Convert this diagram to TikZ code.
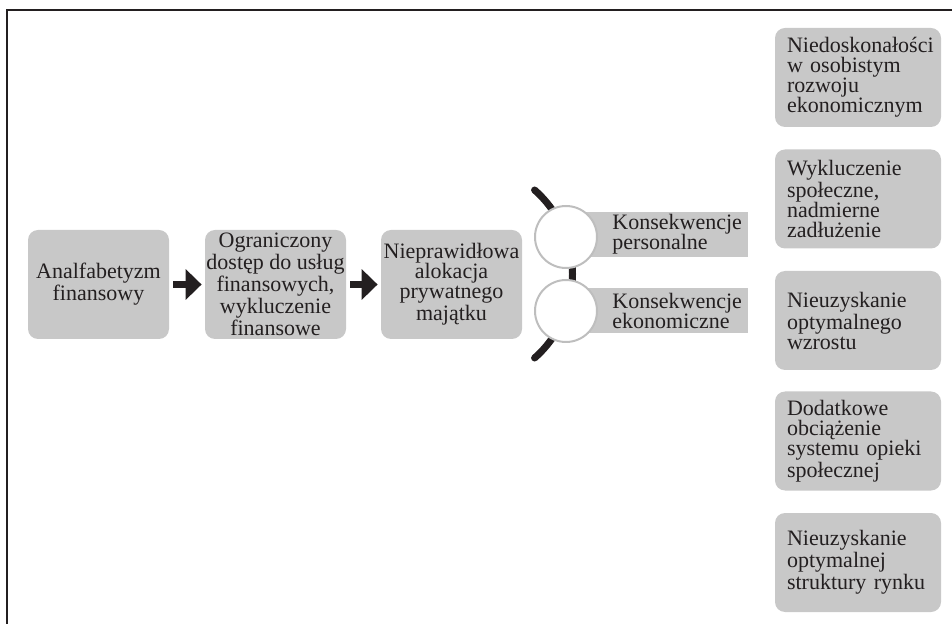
\documentclass[tikz,border=0pt]{standalone}
\usepackage{fontspec}
\setmainfont{Liberation Serif}
\usetikzlibrary{arrows.meta}
\definecolor{boxgray}{RGB}{200,200,200}
\definecolor{ringgray}{RGB}{190,190,190}
\definecolor{ink}{RGB}{35,31,32}

\begin{document}
\begin{tikzpicture}[x=0.5pt, y=-0.5pt, font=\fontsize{11}{10}\selectfont, text=ink,
    chainbox/.style={rectangle, rounded corners=5pt, fill=boxgray, minimum width=70.5pt, minimum height=54.5pt, inner sep=0pt, align=center},
    effectbox/.style={rectangle, rounded corners=5pt, fill=boxgray, text width=71pt, inner xsep=6pt, inner ysep=0pt, minimum height=49.5pt, align=left},
    conbar/.style={rectangle, fill=boxgray, minimum width=91pt, minimum height=22.5pt, inner sep=0pt},
    ring/.style={circle, draw=ringgray, line width=1pt, fill=white, minimum size=31pt, inner sep=0pt},
    flow/.style={line width=3.5pt, draw=ink, -{Triangle[length=8pt, width=15pt]}, shorten <=2pt, shorten >=1.5pt}]
    \useasboundingbox (0,0) rectangle (952,624);
    \draw[line width=1pt, ink] (952,10) -- (7,10) -- (7,624);

    \node at (98.5,284.5) [chainbox] (analf) {Analfabetyzm\\finansowy};
    \node at (275.5,284.5) [chainbox] (dostep) {Ograniczony\\dostęp do usług\\finansowych,\\wykluczenie\\finansowe};
    \node at (451.5,284.5) [chainbox] (alok) {Nieprawidłowa\\alokacja\\prywatnego\\majątku};

    \draw[flow] (analf) -- (dostep);
    \draw[flow] (dostep) -- (alok);

    \coordinate (hub) at (460.5,274);
    \draw[line width=3.5pt, ink, line cap=round] (hub) ++(48.6:112) arc[start angle=48.6, end angle=-48.6, radius=112];

    \node at (657,234.5) [conbar] (perbar) {};
    \node at (657,310.5) [conbar] (ekobar) {};
    \node at (566,237) [ring] (perring) {};
    \node at (566,311) [ring] (ekoring) {};
    \node at (612,234.5) [anchor=west, inner sep=0pt, align=left] (perlbl) {Konsekwencje\\personalne};
    \node at (612,310.5) [anchor=west, inner sep=0pt, align=left] (ekolbl) {Konsekwencje\\ekonomiczne};

    \node at (858,77.5) [effectbox] (rozwoj) {Niedoskonałości\\w osobistym\\rozwoju\\ekonomicznym};
    \node at (858,199) [effectbox] (wyklucz) {Wykluczenie\\społeczne,\\nadmierne\\zadłużenie};
    \node at (858,320.5) [effectbox] (wzrost) {Nieuzyskanie\\optymalnego\\wzrostu};
    \node at (858,441) [effectbox] (opieka) {Dodatkowe\\obciążenie\\systemu opieki\\społecznej};
    \node at (858,562.5) [effectbox] (rynek) {Nieuzyskanie\\optymalnej\\struktury rynku};
\end{tikzpicture}
\end{document}
